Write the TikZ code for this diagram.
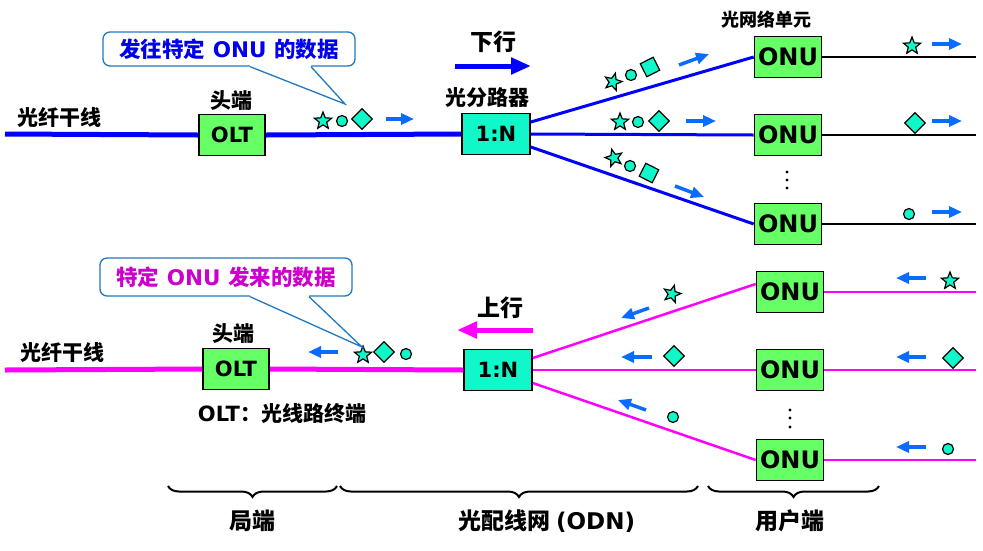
\documentclass[tikz,border=0pt]{standalone}
\usepackage{fontspec}
\setmainfont{DejaVu Sans}
\newfontfamily\zhfont{Noto Sans CJK SC}
\usepackage{xcolor}
\usetikzlibrary{arrows.meta,calc,shapes.geometric,decorations.pathreplacing}
\definecolor{UnitGreen}{HTML}{66FF66}
\definecolor{SplitTeal}{HTML}{10F8CA}
\definecolor{DownBlue}{HTML}{0000FF}
\definecolor{UpMagenta}{HTML}{FF00FF}
\definecolor{DataBlue}{HTML}{0A6CFF}
\definecolor{TipLine}{HTML}{1F78C0}
\definecolor{TipBlue}{HTML}{0000EE}
\definecolor{TipPurple}{HTML}{CC00CC}

\begin{document}
\begin{tikzpicture}[x=1pt,y=-1pt,
  unit/.style={draw=black,line width=1.6pt,minimum width=66pt,minimum height=41pt,inner sep=0pt,font=\bfseries\fontsize{21}{21}\selectfont},
  olt/.style={unit,fill=UnitGreen},
  splitter/.style={unit,fill=SplitTeal,minimum width=68pt},
  onu/.style={unit,fill=UnitGreen,minimum width=67pt,font=\bfseries\fontsize{24}{24}\selectfont},
  zh/.style={font=\zhfont\bfseries\fontsize{21}{21}\selectfont},
  zhbig/.style={font=\zhfont\bfseries\fontsize{23}{23}\selectfont},
  tip/.style={draw=TipLine,line width=1.3pt,rounded corners=7pt,fill=white,minimum width=252pt,minimum height=34pt,inner sep=0pt,font=\bfseries\fontsize{21.5}{21.5}\selectfont},
  dstar/.style={star,star points=5,star point ratio=2.3,minimum size=18pt,inner sep=0pt,draw=black,line width=1.2pt,fill=SplitTeal},
  dcirc/.style={circle,minimum size=11pt,inner sep=0pt,draw=black,line width=1.2pt,fill=SplitTeal},
  ddiam/.style={diamond,minimum size=21pt,inner sep=0pt,draw=black,line width=1.2pt,fill=SplitTeal},
  datarr/.style={-{Triangle[length=13pt,width=11pt]},line width=3.5pt,draw=DataBlue},
  trunkdn/.style={line width=5pt,draw=DownBlue},
  branchdn/.style={line width=3pt,draw=DownBlue},
  trunkup/.style={line width=5pt,draw=UpMagenta},
  branchup/.style={line width=2.5pt,draw=UpMagenta},
  drop/.style={line width=2pt,draw=black},
  bigarr/.style={-{Triangle[length=20pt,width=16pt]},line width=5pt},
  brace/.style={decorate,decoration={brace,amplitude=11pt,mirror},line width=2pt}
]
\useasboundingbox (0,0) rectangle (983,550);

% downstream
\node[zh] (trunk1lbl) at (59,117) {光纤干线};
\node[olt] (olt1) at (232,135) {OLT};
\node[zh] (head1) at (231,101) {头端};
\node[splitter] (split1) at (496,134) {1:N};
\node[zh] (split1lbl) at (487,98) {光分路器};
\node[zhbig] (downlbl) at (493,42) {下行};
\coordinate (down0) at (455,66);
\coordinate (down1) at (531,66);
\draw[bigarr,DownBlue] (down0) -- (down1);
\node[zh,font=\zhfont\bfseries\fontsize{18}{18}\selectfont] (onulbl) at (766,20) {光网络单元};
\node[onu] (onu1) at (788,57) {ONU};
\node[onu] (onu2) at (788,135) {ONU};
\node[onu] (onu3) at (788,224) {ONU};
\foreach \yy in {172,180,188} \fill (787,\yy) circle (1.6pt);

\coordinate (in1) at (5,134);
\draw[trunkdn] (in1) -- (olt1.west);
\draw[trunkdn] (olt1.east) -- (split1.west);
\draw[branchdn] ([yshift=12pt]split1.east) -- (onu1.west);
\draw[branchdn] (split1.east) -- (onu2.west);
\draw[branchdn] ([yshift=-13pt]split1.east) -- (onu3.west);
\coordinate (out1) at (976,57);
\coordinate (out2) at (976,135);
\coordinate (out3) at (976,224);
\draw[drop] (onu1.east) -- (out1);
\draw[drop] (onu2.east) -- (out2);
\draw[drop] (onu3.east) -- (out3);

\node[dstar] (a1) at (323,121) {};
\node[dcirc] (a2) at (342,121) {};
\node[ddiam] (a3) at (362,119) {};
\draw[datarr] (386,119) -- (414,119);

\node[dstar,rotate=-15] (b1) at (613,82) {};
\node[dcirc] (b2) at (631,75) {};
\node[ddiam,rotate=-18] (b3) at (650,67) {};
\draw[datarr] (679,65) -- (709,54);
\node[dstar] (b4) at (620,122) {};
\node[dcirc] (b5) at (638,122) {};
\node[ddiam] (b6) at (659,121) {};
\draw[datarr] (686,121) -- (716,121);
\node[dstar,rotate=15] (b7) at (614,158) {};
\node[dcirc] (b8) at (630,166) {};
\node[ddiam,rotate=18] (b9) at (649,173) {};
\draw[datarr] (675,186) -- (704,197);

\node[dstar] (c1) at (912,46) {};
\draw[datarr] (932,44) -- (962,44);
\node[ddiam] (c2) at (915,123) {};
\draw[datarr] (932,121) -- (962,121);
\node[dcirc] (c3) at (909,214) {};
\draw[datarr] (932,212) -- (962,212);

\node[tip] (tip1) at (229,49) {\color{TipBlue}{\zhfont 发往特定} ONU {\zhfont 的数据}};
\coordinate (tip1end) at (345,104);
\fill[white] ([xshift=21pt,yshift=2pt]tip1.south) -- ([xshift=21pt]tip1.south) -- (tip1end) -- ([xshift=82pt]tip1.south) -- ([xshift=82pt,yshift=2pt]tip1.south) -- cycle;
\draw[TipLine,line width=1.3pt] ([xshift=21pt]tip1.south) -- (tip1end) -- ([xshift=82pt]tip1.south);

% upstream
\node[zh] (trunk2lbl) at (62,352) {光纤干线};
\node[olt] (olt2) at (236,369) {OLT};
\node[zh] (head2) at (233,334) {头端};
\node[zh,font=\bfseries\fontsize{21}{21}\selectfont] (oltnote) at (282,413) {OLT{\zhfont：光线路终端}};
\node[splitter] (split2) at (498,370) {1:N};
\node[zhbig] (uplbl) at (500,308) {上行};
\coordinate (up0) at (533,330);
\coordinate (up1) at (457,330);
\draw[bigarr,UpMagenta] (up0) -- (up1);
\node[onu] (onu4) at (790,292) {ONU};
\node[onu] (onu5) at (790,370) {ONU};
\node[onu] (onu6) at (790,460) {ONU};
\foreach \yy in {410,418,427} \fill (790,\yy) circle (1.6pt);

\coordinate (in2) at (5,370);
\draw[trunkup] (in2) -- (olt2.west);
\draw[trunkup] (olt2.east) -- (split2.west);
\draw[branchup] ([yshift=12pt]split2.east) -- ([yshift=8pt]onu4.west);
\draw[branchup] (split2.east) -- (onu5.west);
\draw[branchup] ([yshift=-13pt]split2.east) -- (onu6.west);
\coordinate (out4) at (976,292);
\coordinate (out5) at (976,370);
\coordinate (out6) at (976,460);
\draw[branchup,line width=2pt] (onu4.east) -- (out4);
\draw[branchup,line width=2pt] (onu5.east) -- (out5);
\draw[branchup,line width=2pt] (onu6.east) -- (out6);

\draw[datarr] (338,352) -- (308,352);
\node[dstar] (e1) at (363,355) {};
\node[ddiam] (e2) at (384,352) {};
\node[dcirc] (e3) at (406,354) {};

\node[dstar,rotate=-15] (f1) at (672,294) {};
\draw[datarr] (649,308) -- (621,318);
\node[ddiam] (f2) at (674,356) {};
\draw[datarr] (652,357) -- (621,357);
\node[dcirc] (f3) at (673,417) {};
\draw[datarr] (646,410) -- (618,400);

\node[dstar] (g1) at (950,281) {};
\draw[datarr] (926,278) -- (896,278);
\node[ddiam] (g2) at (953,358) {};
\draw[datarr] (926,357) -- (896,357);
\node[dcirc] (g3) at (948,449) {};
\draw[datarr] (926,447) -- (896,447);

\node[tip,minimum height=38pt] (tip2) at (226,277) {\color{TipPurple}{\zhfont 特定} ONU {\zhfont 发来的数据}};
\coordinate (tip2end) at (362,347);
\fill[white] ([xshift=24pt,yshift=2pt]tip2.south) -- ([xshift=24pt]tip2.south) -- (tip2end) -- ([xshift=83pt]tip2.south) -- ([xshift=83pt,yshift=2pt]tip2.south) -- cycle;
\draw[TipLine,line width=1.3pt] ([xshift=24pt]tip2.south) -- (tip2end) -- ([xshift=83pt]tip2.south);

% ranges
\draw[brace] (168,486) -- (337,486);
\draw[brace] (340,486) -- (698,486);
\draw[brace] (708,486) -- (879,486);
\node[zhbig] (officelbl) at (252,521) {局端};
\node[zhbig] (odnlbl) at (547,521) {光配线网 {\normalfont\bfseries (ODN)}};
\node[zhbig] (userlbl) at (790,521) {用户端};
\end{tikzpicture}
\end{document}
